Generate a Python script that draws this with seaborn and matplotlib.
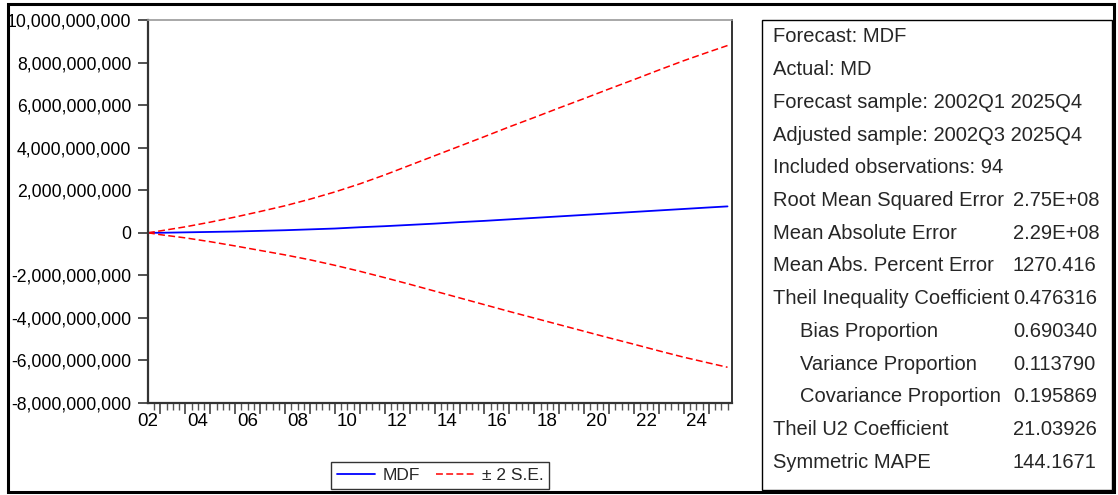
import pandas as pd
import seaborn as sns
import matplotlib.pyplot as plt
from matplotlib.patches import Rectangle
from matplotlib.lines import Line2D
from matplotlib.ticker import FuncFormatter, FixedLocator

# forecast path (2002Q3, then each year start, then 2025Q4)
periods = [2002.5, 2003, 2004, 2005, 2006, 2007, 2008, 2009, 2010, 2011, 2012,
           2013, 2014, 2015, 2016, 2017, 2018, 2019, 2020, 2021, 2022, 2023,
           2024, 2025, 2025.75]
mdf_bn = [0.0, 0.0, 0.02, 0.04, 0.06, 0.09, 0.12, 0.16, 0.20, 0.26, 0.31,
          0.37, 0.43, 0.50, 0.56, 0.63, 0.70, 0.77, 0.84, 0.91, 0.98, 1.05,
          1.12, 1.19, 1.24]
upper_bn = [0.0, 0.09, 0.28, 0.50, 0.74, 1.00, 1.27, 1.58, 1.92, 2.30, 2.72,
            3.17, 3.62, 4.07, 4.52, 4.98, 5.42, 5.87, 6.31, 6.76, 7.20, 7.65,
            8.09, 8.50, 8.80]
lower_bn = [0.0, -0.09, -0.24, -0.42, -0.62, -0.83, -1.04, -1.27, -1.53, -1.81,
            -2.11, -2.42, -2.74, -3.06, -3.38, -3.70, -4.01, -4.32, -4.63,
            -4.94, -5.24, -5.55, -5.85, -6.12, -6.32]

year_labels = ["02", "04", "06", "08", "10", "12", "14", "16", "18", "20", "22", "24"]
label_years = [2002.5, 2004.5, 2006.5, 2008.5, 2010.5, 2012.5, 2014.5,
               2016.5, 2018.5, 2020.5, 2022.5, 2024.5]

stat_labels = ["Forecast: MDF", "Actual: MD", "Forecast sample: 2002Q1 2025Q4",
               "Adjusted sample: 2002Q3 2025Q4", "Included observations: 94",
               "Root Mean Squared Error", "Mean Absolute Error",
               "Mean Abs. Percent Error", "Theil Inequality Coefficient",
               "Bias Proportion", "Variance Proportion", "Covariance Proportion",
               "Theil U2 Coefficient", "Symmetric MAPE"]
stat_values = ["", "", "", "", "", "2.75E+08", "2.29E+08", "1270.416",
               "0.476316", "0.690340", "0.113790", "0.195869", "21.03926",
               "144.1671"]
stat_indent = [0, 0, 0, 0, 0, 0, 0, 0, 0, 1, 1, 1, 0, 0]

df = pd.DataFrame({"period": periods,
                   "MDF": [v * 1e9 for v in mdf_bn],
                   "upper": [v * 1e9 for v in upper_bn],
                   "lower": [v * 1e9 for v in lower_bn]})

sns.set_theme(style="white")
plt.rcParams["font.family"] = ["Liberation Sans", "DejaVu Sans"]

W, H = 1118, 495
fig = plt.figure(figsize=(W / 100, H / 100), dpi=100)
ax = fig.add_axes([148 / W, 1 - 403 / H, (732 - 148) / W, (403 - 20) / H])

dash = (0, (4.5, 2.2))
sns.lineplot(data=df, x="period", y="MDF", color="#0000ff", lw=1.3, ax=ax)
sns.lineplot(data=df, x="period", y="upper", color="#ff0000", lw=1.1, ax=ax)
sns.lineplot(data=df, x="period", y="lower", color="#ff0000", lw=1.1, ax=ax)
for ln in ax.lines[1:]:
    ln.set_linestyle(dash)

ax.set_xlim(2002.5, 2025.93)
ax.set_ylim(-8e9, 1e10)
ax.set_xlabel("")
ax.set_ylabel("")
ax.set_yticks([-8e9 + 2e9 * i for i in range(10)])
ax.yaxis.set_major_formatter(FuncFormatter(lambda v, p: f"{v:,.0f}"))
ax.tick_params(axis="y", left=True, direction="out", length=7, width=1.2,
               color="#333333", pad=5, labelsize=12.7, labelcolor="black")

# year boundaries as major ticks, quarters as minor ticks
ax.xaxis.set_major_locator(FixedLocator(list(range(2003, 2026))))
ax.xaxis.set_minor_locator(FixedLocator([2002.75] + [y + q / 4 for y in range(2003, 2026) for q in (1, 2, 3)]))
ax.tick_params(axis="x", which="major", bottom=True, direction="out", length=8,
               width=1.1, color="#333333", labelbottom=False)
ax.tick_params(axis="x", which="minor", bottom=True, direction="out", length=5,
               width=1.0, color="#555555")

sec = ax.secondary_xaxis("bottom")
sec.set_xticks(label_years)
sec.set_xticklabels(year_labels)
sec.tick_params(length=0, pad=7, labelsize=13.5, labelcolor="black")
sec.spines["bottom"].set_visible(False)

for side, col, w in [("left", "#333333", 1.6), ("bottom", "#333333", 1.6),
                     ("top", "#999999", 1.2), ("right", "#333333", 1.4)]:
    ax.spines[side].set_visible(True)
    ax.spines[side].set_color(col)
    ax.spines[side].set_linewidth(w)

handles = [Line2D([], [], color="#0000ff", lw=1.3),
           Line2D([], [], color="#ff0000", lw=1.1, linestyle=dash)]
leg = fig.legend(handles, ["MDF", "± 2 S.E."], loc="center",
                 bbox_to_anchor=(440 / W, 1 - 475.5 / H), ncol=2, fontsize=12.5,
                 frameon=True, fancybox=False, edgecolor="black",
                 handlelength=2.2, handletextpad=0.45, columnspacing=0.9,
                 borderpad=0.35)
leg.get_frame().set_linewidth(1.0)

# outer frame and statistics box
fig.patches.append(Rectangle((8 / W, 1 - 492 / H), (1114 - 8) / W, (492 - 4) / H,
                             transform=fig.transFigure, fill=False,
                             edgecolor="black", lw=2.2))
fig.patches.append(Rectangle((762 / W, 1 - 490 / H), (1112 - 762) / W, (490 - 20) / H,
                             transform=fig.transFigure, fill=False,
                             edgecolor="black", lw=1.0))

for i, (lab, val, ind) in enumerate(zip(stat_labels, stat_values, stat_indent)):
    y = 1 - (37 + 32.7 * i) / H
    fig.text((773 + 27 * ind) / W, y, lab, fontsize=14.5, va="center", ha="left")
    if val:
        fig.text(1013 / W, y, val, fontsize=14.5, va="center", ha="left")

fig.savefig("out.png", dpi=100)
